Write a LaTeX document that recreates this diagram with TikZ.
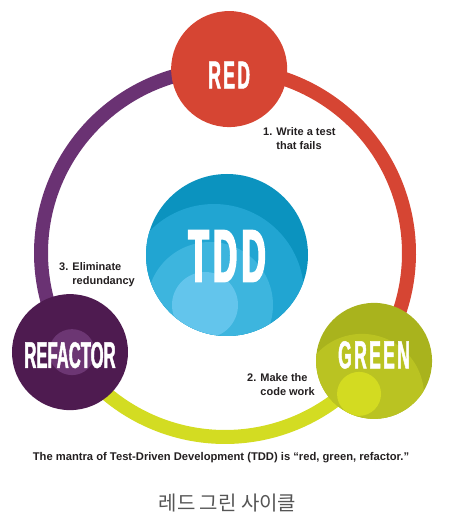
\documentclass[tikz,border=0pt]{standalone}
\usepackage{fontspec}
\setmainfont{Liberation Sans}
\newfontfamily\cjk{Noto Sans CJK KR}
\newfontfamily\condfont{Liberation Sans}[UprightFont=* Bold, FakeStretch=0.45, FakeBold=1.2, LetterSpace=6]
\newfontfamily\condtight{Liberation Sans}[UprightFont=* Bold, FakeStretch=0.45, FakeBold=1.2]
\newfontfamily\condheavy{Liberation Sans}[UprightFont=* Bold, FakeStretch=0.45, FakeBold=2.5, LetterSpace=6]
\usepackage{tikz}

\definecolor{redc}{HTML}{D64533}
\definecolor{purplering}{HTML}{6A3273}
\definecolor{yellowring}{HTML}{D3DC22}
\definecolor{refc}{HTML}{4E1B50}
\definecolor{refin}{HTML}{6C3673}
\definecolor{greenc}{HTML}{A9B31D}
\definecolor{greenmid}{HTML}{BAC322}
\definecolor{greenin}{HTML}{D3DB21}
\definecolor{bluec}{HTML}{0B93BF}
\definecolor{bluemid}{HTML}{21A5D2}
\definecolor{bluelight}{HTML}{3DB5DE}
\definecolor{bluein}{HTML}{63C5EC}
\definecolor{txtc}{HTML}{231F20}
\definecolor{graytxt}{HTML}{555555}

\begin{document}
\begin{tikzpicture}[x=1pt,y=1pt,
    stage/.style={circle,minimum size=116pt,inner sep=0pt},
    stagetext/.style={text=white,inner sep=0pt,font=\condfont\fontsize{39}{39}\selectfont},
    ringline/.style={line width=14pt},
    steptext/.style={align=left,anchor=north west,inner sep=0pt,text=txtc,
        font=\bfseries\fontsize{11}{13.5}\selectfont}]
    \pgfmathsetmacro{\R}{184}
    \pgfmathsetmacro{\ar}{88.7}
    \pgfmathsetmacro{\ag}{-35.9}
    \pgfmathsetmacro{\af}{212.6}

    \useasboundingbox (0,0) rectangle (455,531);
    \coordinate (ring) at (225,278);
    \path (ring) ++(\ar:\R) coordinate (redpos);
    \path (ring) ++(\ag:\R) coordinate (greenpos);
    \path (ring) ++(\af:\R) coordinate (refpos);

    % Draw the cycle ring
    \draw [ringline,purplering] (redpos) arc [start angle=\ar,end angle=\af,radius=\R];
    \draw [ringline,yellowring] (refpos) arc [start angle=\af,end angle=360+\ag,radius=\R];
    \draw [ringline,redc] (greenpos) arc [start angle=\ag,end angle=\ar,radius=\R];

    % Draw the stages
    \node [stage,fill=redc] (red) at (redpos) {};
    \node [stage,fill=greenc] (green) at (greenpos) {};
    \node [stage,fill=refc] (refactor) at (refpos) {};
    \node [circle,minimum size=162pt,inner sep=0pt,fill=bluec] (tdd) at (227,276) {};

    \begin{scope}
        \clip (green.center) circle [radius=58];
        \fill [greenmid] ([shift={(-12,-35)}]green.center) circle [radius=62];
        \fill [greenin] ([shift={(-15,-33)}]green.center) circle [radius=22];
    \end{scope}
    \fill [refin] ([shift={(2,0)}]refactor.center) circle [radius=23];
    \begin{scope}
        \clip (tdd.center) circle [radius=81];
        \fill [bluemid] ([shift={(-13,-39)}]tdd.center) circle [radius=90];
        \fill [bluelight] ([shift={(-17,-50)}]tdd.center) circle [radius=63];
        \fill [bluein] ([shift={(-22,-50)}]tdd.center) circle [radius=33];
    \end{scope}

    % Stage names
    \node [stagetext] (redname) at ([yshift=-6]red.center) {RED};
    \node [stagetext] (greenname) at ([yshift=6]green.center) {GREEN};
    \node [stagetext,font=\condtight\fontsize{37}{37}\selectfont] (refname) at ([yshift=-3]refactor.center) {REFACTOR};
    \node [stagetext,font=\condheavy\fontsize{74}{74}\selectfont] (tddname) at ([yshift=-1]tdd.center) {TDD};

    % Step labels
    \node [steptext] (stepone) at (263,403.5) {1. Write a test\\\hphantom{1. }that fails};
    \node [steptext] (steptwo) at (247,157.5) {2. Make the\\\hphantom{2. }code work};
    \node [steptext] (stepthree) at (59,268.5) {3. Eliminate\\\hphantom{3. }redundancy};

    % Captions
    \node [anchor=base,inner sep=0pt,text=txtc,font=\bfseries\fontsize{11.2}{13}\selectfont] (mantra) at (221,70.3)
        {The mantra of Test-Driven Development (TDD) is “red, green, refactor.”};
    \node [anchor=base,inner sep=0pt,text=graytxt,font=\cjk\fontsize{20}{20}\selectfont] (cycle) at (227.5,20)
        {레드 그린 사이클};
\end{tikzpicture}
\end{document}
